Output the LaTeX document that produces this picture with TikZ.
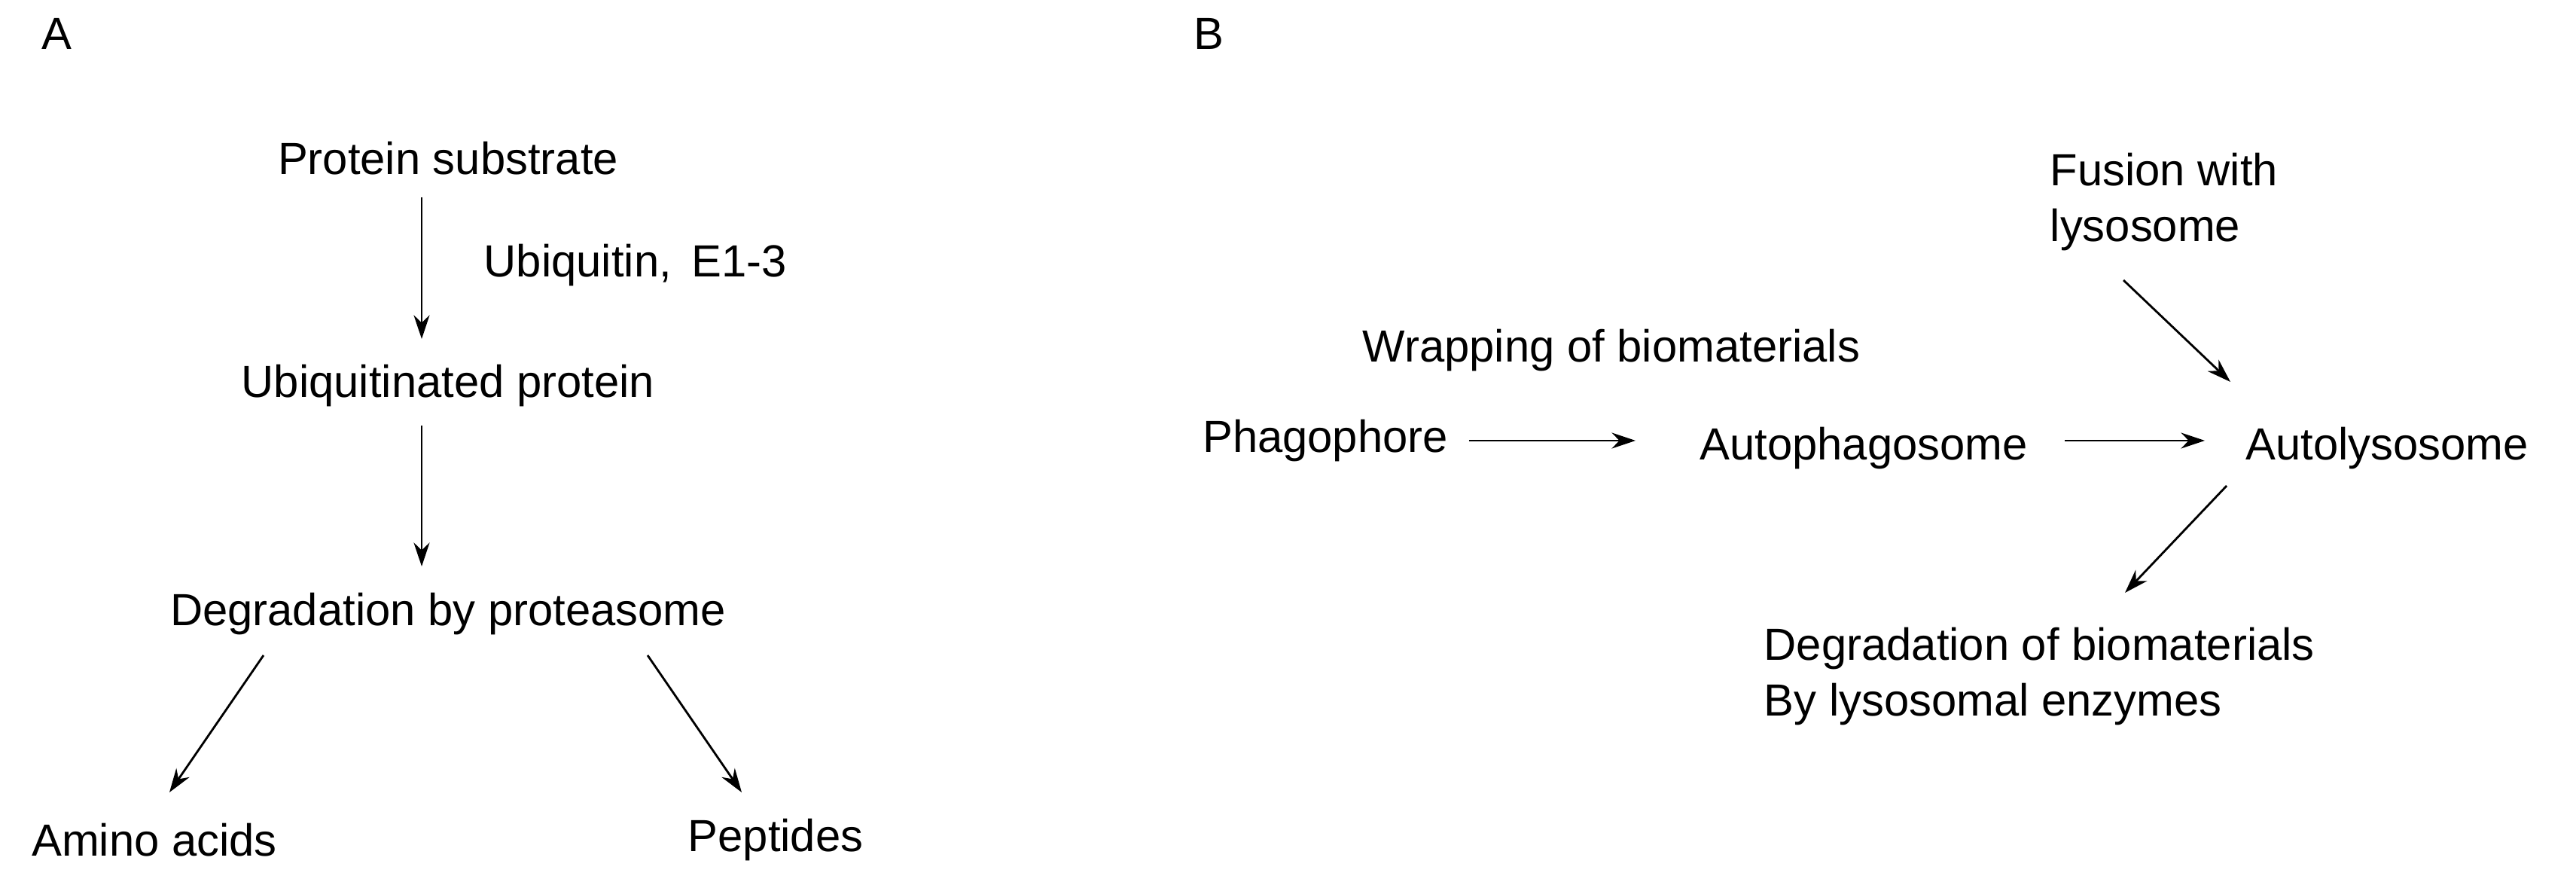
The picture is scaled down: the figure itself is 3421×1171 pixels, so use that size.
\documentclass[tikz,border=0pt]{standalone}
\usepackage{fontspec}
\setmainfont{Liberation Sans}
\usetikzlibrary{arrows.meta}
\begin{document}
\begin{tikzpicture}[x=0.01cm,y=-0.01cm,
  t/.style={font=\fontsize{17}{21}\selectfont, inner sep=2pt},
  arr/.style={-{Stealth[length=9pt,width=6pt]}, line width=0.8pt}]
\useasboundingbox (0,0) rectangle (3421,1171);
\node[t] (la) at (75,45) {A};
\node[t] (lb) at (1605,45) {B};
\node[t] (ps) at (595,210) {Protein substrate};
\node[t,anchor=west] (ub) at (635,352) {Ubiquitin,\, E1-3};
\node[t] (up) at (595,512) {Ubiquitinated protein};
\node[t] (dp) at (595,815) {Degradation by proteasome};
\node[t] (aa) at (205,1115) {Amino acids};
\node[t] (pe) at (1030,1115) {Peptides};
\draw[arr] (560,262) -- (560,450);
\draw[arr] (560,565) -- (560,752);
\draw[arr] (350,870) -- (225,1052);
\draw[arr] (860,870) -- (985,1052);
\node[t] (ph) at (1760,585) {Phagophore};
\node[t] (ap) at (2475,595) {Autophagosome};
\node[t] (al) at (3170,595) {Autolysosome};
\node[t] (wr) at (2140,465) {Wrapping of biomaterials};
\node[t,anchor=west,align=left] (fu) at (2715,268) {Fusion with\\lysosome};
\node[t,anchor=west,align=left] (dg) at (2335,898) {Degradation of biomaterials\\By lysosomal enzymes};
\draw[arr] (ph.east)++(20,0) -- (2172,585);
\draw[arr] (2742,585) -- (2928,585);
\draw[arr] (2820,372) -- (2962,507);
\draw[arr] (2957,645) -- (2822,787);
\end{tikzpicture}
\end{document}
